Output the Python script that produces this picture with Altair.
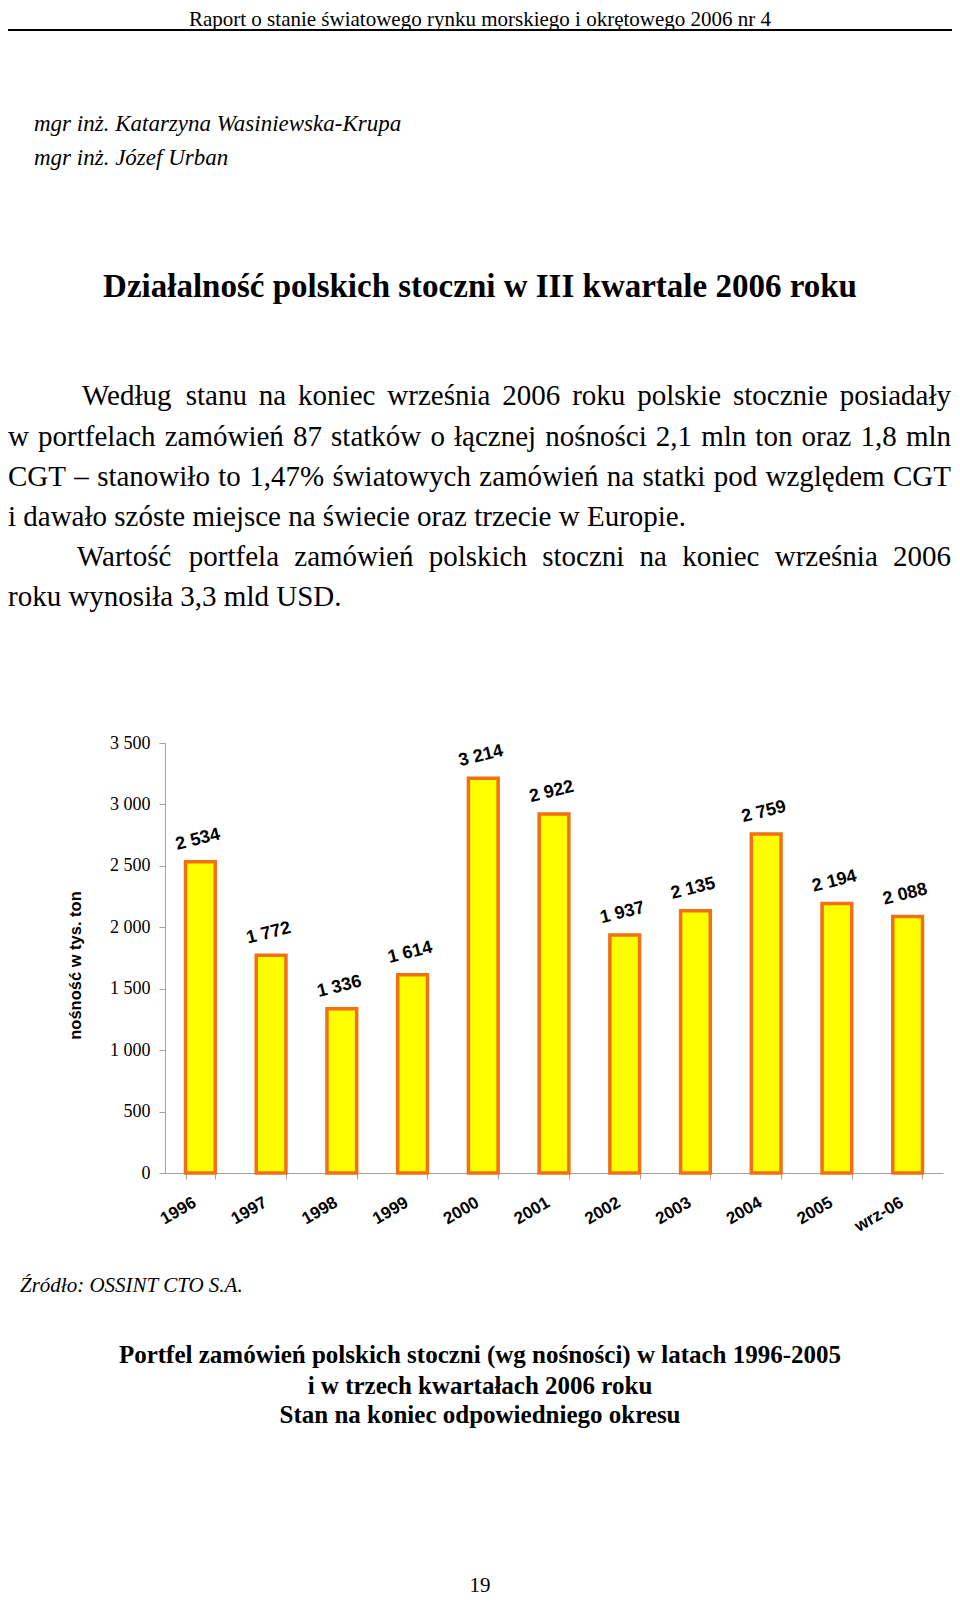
import altair as alt
import pandas as pd

# ---------------- data ----------------
years = ["1996", "1997", "1998", "1999", "2000", "2001", "2002", "2003", "2004", "2005", "wrz-06"]
values = [2534, 1772, 1336, 1614, 3214, 2922, 1937, 2135, 2759, 2194, 2088]
y_ticks = [0, 500, 1000, 1500, 2000, 2500, 3000, 3500]

header_text = "Raport o stanie światowego rynku morskiego i okrętowego 2006 nr 4"
authors = ["mgr inż. Katarzyna Wasiniewska-Krupa", "mgr inż. Józef Urban"]
title_text = "Działalność polskich stoczni w III kwartale 2006 roku"
para_lines = [
    "Według stanu na koniec września 2006 roku polskie stocznie posiadały",
    "w portfelach zamówień 87 statków o łącznej nośności 2,1 mln ton oraz 1,8 mln",
    "CGT – stanowiło to 1,47% światowych zamówień na statki pod względem CGT",
    "i dawało szóste miejsce na świecie oraz trzecie w Europie.",
    "Wartość portfela zamówień polskich stoczni na koniec września 2006",
    "roku wynosiła 3,3 mld USD.",
]
para_justified = [True, True, True, False, True, False]
source_text = "Źródło:  OSSINT CTO S.A."
caption_lines = [
    "Portfel zamówień polskich stoczni (wg nośności) w latach 1996-2005",
    "i w trzech kwartałach 2006 roku",
    "Stan na koniec odpowiedniego okresu",
]
page_number = "19"
y_title = "nośność w tys. ton"

# ---------------- layout helpers (plot-area pixel coords) ----------------
PX0, PY0 = 165, 743  # page position of plot origin
W, H = 778, 430


def px(x):
    return x - PX0


def py(y):
    return y - PY0


# Times New Roman advance widths (per 1000 em)
_tw = {}
for ch, w in zip("abcdefghijklmnopqrstuvwxyz",
                 [444, 500, 444, 500, 444, 333, 500, 500, 278, 278, 500, 278, 778,
                  500, 500, 500, 500, 333, 389, 278, 500, 500, 722, 500, 500, 444]):
    _tw[ch] = w
for ch, w in zip("ABCDEFGHIJKLMNOPQRSTUVWXYZ",
                 [722, 667, 667, 722, 611, 556, 722, 722, 333, 389, 722, 611, 889,
                  722, 722, 556, 722, 667, 556, 611, 722, 722, 944, 722, 722, 611]):
    _tw[ch] = w
for d in "0123456789":
    _tw[d] = 500
_tw.update({" ": 250, ",": 250, ".": 250, "%": 833, "–": 500, "-": 333})
_pl = {"ą": "a", "ć": "c", "ę": "e", "ł": "l", "ń": "n", "ó": "o", "ś": "s", "ź": "z", "ż": "z"}


def word_width(word, size):
    return sum(_tw.get(_pl.get(c, c), 500) for c in word) * size / 1000.0


PARA_SIZE = 29
para_y_page = [396, 437, 477, 517, 557, 597]
right_edge = 951
indent_x = [82, 8, 8, 8, 77, 8]

word_rows = []
for i, line in enumerate(para_lines):
    x0 = indent_x[i]
    words = line.split(" ")
    if para_justified[i]:
        widths = [word_width(w_, PARA_SIZE) for w_ in words]
        gap = (right_edge - x0 - sum(widths)) / (len(words) - 1)
        x = x0
        for w_, wd in zip(words, widths):
            word_rows.append({"t": w_, "x": px(x), "y": py(para_y_page[i])})
            x += wd + gap
    else:
        word_rows.append({"t": line, "x": px(x0), "y": py(para_y_page[i])})
para_df = pd.DataFrame(word_rows)

center_rows = pd.DataFrame([
    {"t": header_text, "x": px(480), "y": py(20), "g": "header"},
    {"t": title_text, "x": px(480), "y": py(287), "g": "title"},
    {"t": caption_lines[0], "x": px(480), "y": py(1355), "g": "caption"},
    {"t": caption_lines[1], "x": px(480), "y": py(1386), "g": "caption"},
    {"t": caption_lines[2], "x": px(480), "y": py(1415), "g": "caption"},
    {"t": page_number, "x": px(480), "y": py(1586), "g": "page"},
])
italic_rows = pd.DataFrame([
    {"t": authors[0], "x": px(34), "y": py(124), "g": "auth"},
    {"t": authors[1], "x": px(34), "y": py(158), "g": "auth"},
    {"t": source_text, "x": px(20), "y": py(1286), "g": "src"},
])

bars_df = pd.DataFrame({
    "year": years,
    "value": values,
    "label": [f"{v:,}".replace(",", " ") for v in values],
})

SERIF = "Liberation Serif"
SANS = "Liberation Sans"

xenc = alt.X("year:N", sort=years, title=None,
             scale=alt.Scale(paddingInner=0.58, paddingOuter=0.29),
             axis=alt.Axis(labelAngle=330, labelAlign="right", labelBaseline="top",
                           labelFont=SANS, labelFontWeight="bold", labelFontSize=17,
                           labelColor="black", labelPadding=15, labelOffset=-10,
                           tickBand="extent", tickSize=6, tickColor="#A0A0A0",
                           domainColor="#A0A0A0", labelOverlap=False))
yenc = alt.Y("value:Q", scale=alt.Scale(domain=[0, 3500], nice=False),
             axis=alt.Axis(values=y_ticks, grid=False, title=y_title,
                           labelExpr="replace(format(datum.value, ','), ',', ' ')",
                           labelFont=SERIF, labelFontSize=18, labelColor="black",
                           labelPadding=9, tickSize=6, tickColor="#A0A0A0",
                           domainColor="#A0A0A0", titleFont=SANS, titleFontSize=16.5,
                           titleFontWeight="bold", titleColor="black", titleAngle=270,
                           titleX=-90, titleY=222, titleAlign="center",
                           titleBaseline="middle"))

bars = alt.Chart(bars_df).mark_bar(fill="#FFFF00", stroke="#F07014", strokeWidth=3.5).encode(
    x=xenc, y=yenc)
labels = alt.Chart(bars_df).mark_text(font=SANS, fontWeight="bold", fontSize=18, angle=346,
                                      baseline="middle", dy=-22, dx=3, color="black").encode(
    x=alt.X("year:N", sort=years), y=alt.Y("value:Q"), text="label:N")
bar_chart = alt.layer(bars, labels)

rule = alt.Chart(pd.DataFrame({"a": [1]})).mark_rule(color="black", strokeWidth=2).encode(
    x=alt.value(px(8)), x2=alt.value(px(952)), y=alt.value(py(30)))


def text_layer(df, **kw):
    return alt.Chart(df).mark_text(color="black", **kw).encode(
        x=alt.X("x:Q", scale=None, axis=None),
        y=alt.Y("y:Q", scale=None, axis=None),
        text="t:N")


hdr = text_layer(center_rows[center_rows.g == "header"], font=SERIF, fontSize=21,
                 align="center", baseline="middle")
ttl = text_layer(center_rows[center_rows.g == "title"], font=SERIF, fontSize=33,
                 fontWeight="bold", align="center", baseline="middle")
cap = text_layer(center_rows[center_rows.g == "caption"], font=SERIF, fontSize=25,
                 fontWeight="bold", align="center", baseline="middle")
pg = text_layer(center_rows[center_rows.g == "page"], font=SERIF, fontSize=21,
                align="center", baseline="middle")
auth = text_layer(italic_rows[italic_rows.g == "auth"], font=SERIF, fontSize=23,
                  fontStyle="italic", align="left", baseline="middle")
src = text_layer(italic_rows[italic_rows.g == "src"], font=SERIF, fontSize=21,
                 fontStyle="italic", align="left", baseline="middle")
para = text_layer(para_df, font=SERIF, fontSize=PARA_SIZE, align="left", baseline="middle")

chart = alt.layer(bar_chart, rule, hdr, ttl, cap, pg, auth, src, para).resolve_scale(
    x="independent", y="independent"
).properties(
    width=W, height=H,
    padding={"left": 157, "top": 735, "right": 9, "bottom": 427},
    autosize=alt.AutoSizeParams(type="none"),
    background="white",
).configure_view(strokeWidth=0)

chart.save("out.html", embed_options={"renderer": "svg", "actions": False})
